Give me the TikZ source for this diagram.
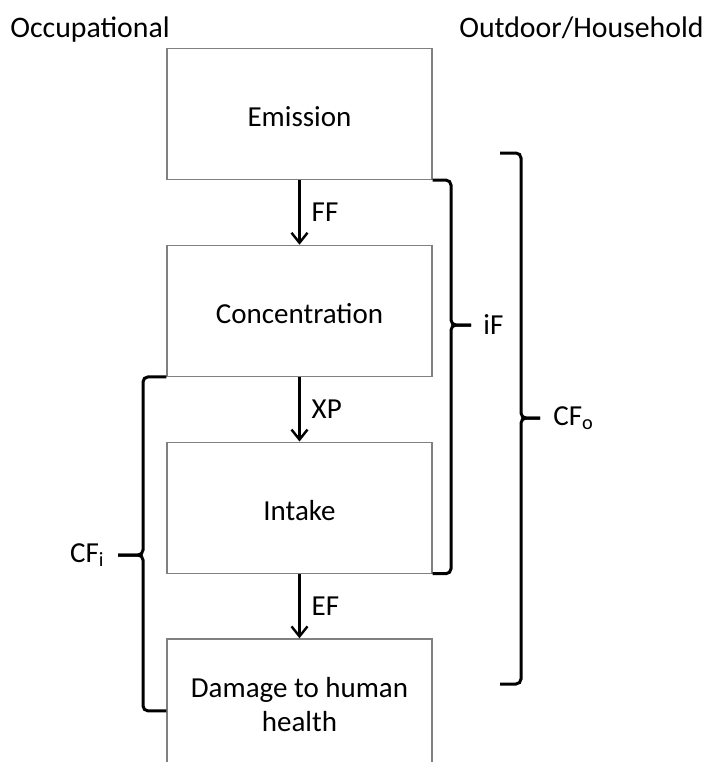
\documentclass[tikz,border=0pt]{standalone}
\usepackage{fontspec}
\setmainfont{Carlito}
\usetikzlibrary{arrows.meta}
\tikzset{>={Straight Barb[length=5pt,width=8pt]}}

\begin{document}
\begin{tikzpicture}[x=0.5pt,y=-0.5pt,
  stage/.style={draw=black!50,line width=0.6pt,minimum width=132.5pt,
    minimum height=65.5pt,align=center,inner sep=0pt},
  oneline/.style={text height=13pt},
  flow/.style={->,line width=1.2pt},
  bracket/.style={line width=1.5pt,rounded corners=2.5pt},
  lbl/.style={inner sep=0pt}]

  \fontsize{14.5}{17}\selectfont

  \newcommand\Xc{299.5}
  \newcommand\Y{196.8}

  \path[use as bounding box,clip] (0,0) rectangle (705,762);

  % headers
  \node[lbl,anchor=base west,font=\fontsize{14.9}{17}\selectfont] (occ) at (10,37) {Occupational};
  \node[lbl,anchor=base east,font=\fontsize{14.9}{17}\selectfont] (outd) at (704,37) {Outdoor/Household};

  % chain of stages
  \node[stage,oneline] (emis) at (\Xc, 114+0*\Y) {Emission};
  \node[stage,oneline] (conc) at (\Xc, 114+1*\Y) {Concentration};
  \node[stage,oneline] (intk) at (\Xc, 114+2*\Y) {Intake};
  \node[stage] (dmg)  at (\Xc, 114+3*\Y) {Damage to human\\health};

  \draw[flow] (emis) -- node[lbl,right=5.5pt]{FF} (conc); %% emission->concentration
  \draw[flow] (conc) -- node[lbl,right=5.5pt]{XP} (intk); %% concentration->intake
  \draw[flow] (intk) -- node[lbl,right=5.5pt]{EF} (dmg);  %% intake->damage

  % iF bracket
  \coordinate (iFbar) at (451,325);
  \coordinate (iFtip) at (471,325);
  \draw[bracket] (emis.south east) -| (iFbar) -- (iFtip);
  \draw[bracket] (iFtip) -- (iFbar) |- (intk.south east);
  \node[lbl,right=6pt] (iF) at (iFtip) {iF};

  % CF_o bracket
  \coordinate (CFotop) at (500,153);
  \coordinate (CFobot) at (500,684);
  \coordinate (CFobar) at (521,418);
  \coordinate (CFotip) at (540,418);
  \draw[bracket] (CFotop) -| (CFobar) -- (CFotip);
  \draw[bracket] (CFotip) -- (CFobar) |- (CFobot);
  \node[lbl,right=6.5pt] (CFo) at (CFotip) {CF\textsubscript{o}};

  % CF_i bracket
  \coordinate (CFibot) at ([yshift=-3.25pt]dmg.west);
  \coordinate (CFibar) at (143,555);
  \coordinate (CFitip) at (118,555);
  \draw[bracket] (conc.south west) -| (CFibar) -- (CFitip);
  \draw[bracket] (CFitip) -- (CFibar) |- (CFibot);
  \node[lbl,left=6.5pt] (CFi) at (CFitip) {CF\textsubscript{i}};

\end{tikzpicture}
\end{document}
